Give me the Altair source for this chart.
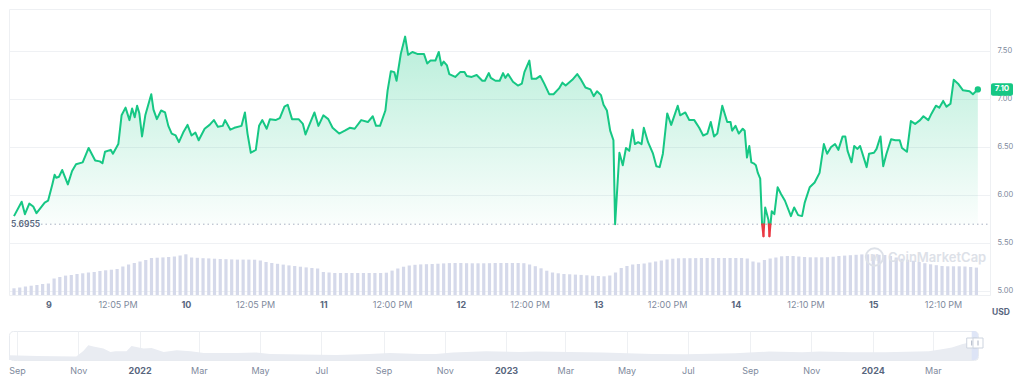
import altair as alt
import numpy as np
import pandas as pd
from datetime import datetime, timezone

# ---------------- data ----------------
# price: hours since 2024-04-09 00:00 UTC, price in USD
price_hours = [
    -6.00, -4.66, -4.09, -3.33, -2.64, -2.07, -0.64, -0.05, 0.69, 1.09, 1.38, 1.85, 2.42, 3.40, 4.14,
    4.83, 5.99, 7.03, 8.17, 8.98, 9.44, 9.89, 10.88, 11.27, 12.21, 12.78, 13.47, 14.16, 14.62, 15.07,
    15.49, 15.88, 16.35, 16.92, 17.96, 18.35, 18.94, 19.68, 20.37, 20.94, 21.53, 22.22, 22.79, 23.53,
    24.29, 24.98, 25.67, 26.24, 27.28, 28.14, 28.89, 29.58, 30.44, 30.85, 31.77, 32.46, 33.72, 34.31,
    34.76, 35.34, 36.21, 36.78, 37.35, 38.11, 38.68, 39.66, 40.40, 41.21, 41.78, 42.53, 43.68, 44.43,
    44.89, 45.41, 46.45, 47.14, 48.00, 48.86, 49.61, 50.76, 51.75, 52.61, 53.47, 54.61, 55.77, 56.63,
    57.20, 57.89, 58.83, 59.22, 59.79, 60.38, 60.78, 61.52, 62.28, 62.80, 63.54, 64.40, 65.56, 66.13,
    66.70, 67.56, 68.15, 68.60, 69.01, 69.58, 69.98, 71.02, 71.88, 72.64, 73.03, 73.90, 74.76, 75.75,
    76.20, 76.89, 77.23, 78.04, 78.78, 79.37, 79.77, 80.24, 81.10, 81.96, 82.65, 83.10, 83.96, 84.38,
    85.12, 85.87, 86.56, 87.42, 88.18, 89.14, 89.73, 90.30, 91.46, 92.32, 92.89, 93.75, 94.62, 95.19,
    95.77, 96.47, 96.91, 97.50, 98.07, 98.64, 98.93, 99.68, 100.27, 100.83, 101.40, 101.99, 102.39,
    102.96, 103.55, 103.94, 104.68, 105.55, 106.13, 106.70, 107.27, 108.03, 108.72, 109.29, 109.86,
    110.28, 111.19, 111.88, 112.75, 113.61, 114.30, 115.04, 115.63, 116.20, 116.77, 117.64, 118.50,
    119.08, 119.36, 119.95, 120.52, 121.21, 121.55, 121.95, 122.36, 122.71, 123.11, 123.50, 123.85,
    124.26, 124.59, 124.83, 124.95, 125.13, 125.70, 125.75, 125.87, 126.06, 126.27, 126.73, 127.30,
    127.89, 128.58, 129.62, 130.19, 130.88, 131.57, 132.03, 132.90, 133.76, 134.62, 135.37, 135.94,
    136.63, 137.32, 137.90, 138.65, 139.11, 139.51, 140.20, 140.67, 141.24, 141.70, 142.84, 143.26,
    144.12, 144.57, 145.26, 145.73, 146.30, 147.11, 147.85, 148.61, 149.01, 149.87, 150.56, 151.30,
    152.17, 152.75, 153.61, 154.18, 154.93, 155.52, 156.20, 156.78, 157.47, 158.04, 158.80, 159.66,
    160.80, 161.39, 162.25,
]
price_values = [
    5.78, 5.93, 5.80, 5.91, 5.88, 5.81, 5.92, 5.94, 6.11, 6.21, 6.18, 6.19, 6.26, 6.11, 6.25,
    6.32, 6.34, 6.49, 6.36, 6.35, 6.33, 6.45, 6.47, 6.43, 6.53, 6.83, 6.91, 6.78, 6.90, 6.81,
    6.93, 6.85, 6.61, 6.83, 7.05, 6.89, 6.79, 6.88, 6.86, 6.72, 6.64, 6.62, 6.55, 6.65,
    6.73, 6.62, 6.65, 6.57, 6.69, 6.73, 6.78, 6.71, 6.72, 6.78, 6.68, 6.70, 6.72, 6.86,
    6.64, 6.44, 6.47, 6.72, 6.78, 6.69, 6.79, 6.78, 6.80, 6.92, 6.94, 6.79, 6.79, 6.74,
    6.63, 6.71, 6.86, 6.72, 6.83, 6.79, 6.70, 6.64, 6.67, 6.70, 6.69, 6.78, 6.76, 6.82,
    6.72, 6.72, 6.88, 7.09, 7.29, 7.28, 7.19, 7.47, 7.65, 7.46, 7.49, 7.47, 7.47, 7.37,
    7.40, 7.40, 7.49, 7.35, 7.39, 7.35, 7.26, 7.23, 7.28, 7.28, 7.24, 7.23, 7.25, 7.19,
    7.19, 7.27, 7.22, 7.19, 7.19, 7.27, 7.22, 7.26, 7.18, 7.14, 7.16, 7.28, 7.40, 7.21,
    7.21, 7.24, 7.16, 7.05, 7.05, 7.11, 7.17, 7.14, 7.20, 7.26, 7.21, 7.12, 7.10, 7.03,
    7.08, 7.04, 6.94, 6.88, 6.67, 6.57, 5.69, 6.44, 6.31, 6.49, 6.46, 6.68, 6.53,
    6.55, 6.53, 6.70, 6.55, 6.43, 6.30, 6.29, 6.43, 6.85, 6.73, 6.83, 6.93,
    6.83, 6.86, 6.78, 6.78, 6.70, 6.62, 6.64, 6.76, 6.61, 6.64, 6.93, 6.76,
    6.76, 6.67, 6.72, 6.64, 6.69, 6.67, 6.39, 6.51, 6.34, 6.33, 6.31, 6.23,
    6.17, 5.6955, 5.57, 5.6955, 5.87, 5.74, 5.6955, 5.57, 5.6955, 5.83, 5.80, 6.08,
    6.01, 5.94, 5.78, 5.87, 5.79, 5.78, 5.92, 6.08, 6.13, 6.23, 6.53, 6.43,
    6.50, 6.53, 6.47, 6.61, 6.61, 6.46, 6.34, 6.51, 6.48, 6.51, 6.29, 6.43,
    6.44, 6.48, 6.61, 6.30, 6.43, 6.58, 6.57, 6.57, 6.49, 6.45, 6.77, 6.74,
    6.78, 6.82, 6.78, 6.85, 6.93, 6.91, 6.98, 6.92, 6.95, 7.20, 7.16, 7.09,
    7.08, 7.05, 7.10,
]
BASELINE = 5.6955

# 24h volume, one value per hour starting 2024-04-08 18:00 UTC (millions USD)
volume_hourly = [
    6.7, 7.5, 8.5, 9.3, 10, 11, 11.5, 16.5, 18, 19.4,
    20, 21, 21.7, 22.5, 23, 24, 24.7, 25.3, 26, 28.5,
    30.5, 32, 33.5, 35, 37, 37.3, 37.6, 38, 38.5, 39.5,
    40.7, 37.5, 37.2, 36.8, 36.6, 36.3, 36, 35.8, 35.6, 35.4,
    35.4, 35.4, 35.3, 34.5, 33, 32, 31.2, 30.4, 29.6, 29,
    28.3, 27.6, 27, 26.5, 23, 22.5, 22, 22, 22, 22,
    22, 22, 22, 22, 22, 22.3, 24.4, 26.5, 28.3, 29.5,
    30.2, 30.6, 30.8, 31, 31.3, 31.6, 31.9, 32, 32, 31.8,
    31.7, 31.7, 31.7, 31.8, 32, 32, 32, 32, 32, 31.8,
    30.5, 28.8, 26.7, 24.3, 22.5, 21.7, 21, 20.7, 20.4, 20.1,
    19.7, 19.3, 19, 18.7, 19.5, 22.5, 27, 29, 30.5, 31,
    31.5, 32.5, 33.5, 34.5, 35.5, 36.3, 36.7, 36.8, 36.8, 36.9,
    37, 37, 37, 37, 37, 37, 37, 37, 36.5, 33.5,
    32.5, 35, 36.5, 37.5, 38.7, 39, 39, 38.5, 38, 37.7,
    37.7, 37.7, 37.8, 38.3, 39, 39.4, 39.8, 40.2, 40.6, 40.7,
    40.5, 40.2, 40, 39, 37.5, 36.3, 35.3, 34.3, 33, 31.8,
    30.7, 29.8, 29, 28.7, 28.7, 28.7, 28.5, 28, 27.4,
]

# x-axis tick times of the main chart (UTC)
x_ticks = [
    "2024-04-09T00:00", "2024-04-09T12:05", "2024-04-10T00:00", "2024-04-10T12:05",
    "2024-04-11T00:00", "2024-04-11T12:00", "2024-04-12T00:00", "2024-04-12T12:00",
    "2024-04-13T00:00", "2024-04-13T12:00", "2024-04-14T00:00", "2024-04-14T12:10",
    "2024-04-15T00:00", "2024-04-15T12:10",
]
y_ticks = [5.00, 5.50, 6.00, 6.50, 7.00, 7.50]
main_start = "2024-04-08T18:00"
main_end = "2024-04-15T19:30"

# navigator (long history)
nav_dates = [
    "2021-08-24", "2021-09-21", "2021-10-30", "2021-11-06", "2021-11-11", "2021-11-16", "2021-11-26",
    "2021-12-03", "2021-12-08", "2021-12-19", "2021-12-24", "2022-01-05", "2022-01-13", "2022-01-25",
    "2022-02-07", "2022-02-21", "2022-03-06", "2022-04-08", "2022-04-27", "2022-05-11", "2022-06-13",
    "2022-07-16", "2022-08-18", "2022-09-07", "2022-10-07", "2022-10-23", "2022-11-09", "2022-12-12",
    "2023-01-15", "2023-01-31", "2023-04-07", "2023-05-27", "2023-06-29", "2023-08-17", "2023-09-20",
    "2023-10-23", "2023-11-09", "2023-12-12", "2024-01-13", "2024-02-26", "2024-03-10", "2024-03-20",
    "2024-03-30", "2024-04-06", "2024-04-15",
]
nav_level = [
    4.7, 4.0, 3.4, 9.0, 14.7, 13.4, 11.4, 8.0, 8.7, 8.7, 14.0, 11.4, 12.0, 8.0, 9.7, 8.7, 7.0, 7.0,
    7.4, 6.0, 5.4, 5.0, 6.0, 7.0, 6.0, 6.0, 7.4, 8.7, 8.0, 8.4, 7.4, 6.0, 5.7, 6.7, 8.4, 7.7, 8.4,
    7.7, 7.7, 8.7, 10.7, 12.4, 15.7, 17.4, 18.0,
]
nav_ticks = [
    "2021-09-01", "2021-11-01", "2022-01-01", "2022-03-01", "2022-05-01", "2022-07-01",
    "2022-09-01", "2022-11-01", "2023-01-01", "2023-03-01", "2023-05-01", "2023-07-01",
    "2023-09-01", "2023-11-01", "2024-01-01", "2024-03-01",
]
nav_start = "2021-08-24"
nav_end = "2024-04-15"

# ---------------- helpers ----------------
def ms(s):
    return int(datetime.fromisoformat(s).replace(tzinfo=timezone.utc).timestamp() * 1000)

BASE_MS = ms("2024-04-09T00:00")
GREEN = "#16c784"
RED = "#ea3943"
DARK = "#58667e"
GREY = "#808a9d"

price = pd.DataFrame({"h": price_hours, "v": price_values})
price["t"] = BASE_MS + (price["h"] * 3600000).round().astype("int64")
price["v_up"] = np.maximum(price["v"], BASELINE)
price["v_dn"] = np.minimum(price["v"], BASELINE)

seg = price.copy()
seg["t2"] = seg["t"].shift(-1)
seg["v2"] = seg["v"].shift(-1)
seg = seg.dropna()
seg = seg[(seg["v"] + seg["v2"]) / 2 < BASELINE]

last = price.iloc[[-1]]
last_price = float(price["v"].iloc[-1])

vol = pd.DataFrame({"vol": volume_hourly})
vol["t"] = ms(main_start) + np.arange(len(vol)) * 3600000

one = pd.DataFrame({"a": [0]})

x_scale = alt.Scale(type="utc", domain=[ms(main_start), ms(main_end)])
is_day = "utchours(datum.value) == 0 && utcminutes(datum.value) == 0"
x_axis = alt.Axis(
    values=[ms(s) for s in x_ticks],
    labelExpr="utchours(datum.value) == 0 && utcminutes(datum.value) == 0 ? utcFormat(datum.value, '%-d') : utcFormat(datum.value, '%-I:%M %p')",
    labelFontWeight={"condition": {"test": is_day, "value": "bold"}, "value": "normal"},
    labelColor={"condition": {"test": is_day, "value": DARK}, "value": GREY},
    grid=False, domain=False, ticks=False, labelPadding=5, labelFontSize=9,
    labelOverlap=False, labelFlush=False, labelBound=False,
)
X = alt.X("t:T", scale=x_scale, axis=x_axis, title=None)

y_scale = alt.Scale(domain=[4.958, 7.9375], nice=False, zero=False)
y_axis = alt.Axis(
    orient="right", values=y_ticks, format=".2f", grid=True, gridColor="#eff1f4",
    domain=False, ticks=False, labelPadding=7, labelFontSize=7.5, labelColor=GREY,
)

green_grad = alt.Gradient(
    gradient="linear",
    stops=[alt.GradientStop(color="rgba(22,199,132,0.30)", offset=0),
           alt.GradientStop(color="rgba(22,199,132,0.02)", offset=1)],
    x1=0, x2=0, y1=0, y2=1,
)

# ---------------- main chart ----------------
volume_layer = alt.Chart(vol).mark_bar(size=3.2, color="#d5d9ea", clip=True).encode(
    x=X,
    y=alt.Y("vol:Q", scale=alt.Scale(domain=[0, 286]), axis=None, title=None),
)

area_up = alt.Chart(price).mark_area(color=green_grad, interpolate="linear").encode(
    x=X,
    y=alt.Y("v_up:Q", scale=y_scale, axis=y_axis, title=None),
    y2=alt.datum(BASELINE),
)
area_dn = alt.Chart(price).mark_area(color="rgba(234,57,67,0.12)").encode(
    x=X, y=alt.Y("v_dn:Q", title=None), y2=alt.datum(BASELINE),
)
base_rule = alt.Chart(one).mark_rule(strokeDash=[1.5, 3], color="#a9b2c3", strokeWidth=1).encode(
    x=alt.value(32), x2=alt.value(981), y=alt.datum(BASELINE),
)
base_label = alt.Chart(one).mark_text(
    align="left", baseline="middle", fontSize=8.5, fontWeight=600, color=DARK
).encode(x=alt.value(2), y=alt.datum(BASELINE), text=alt.value(f"{BASELINE}"))

line_up = alt.Chart(price).mark_line(color=GREEN, strokeWidth=2, strokeJoin="round").encode(
    x=X, y=alt.Y("v_up:Q", title=None),
)
line_dn = alt.Chart(seg).mark_rule(color=RED, strokeWidth=2, strokeCap="round").encode(
    x=X, x2="t2", y=alt.Y("v:Q", title=None), y2="v2",
)
end_dot = alt.Chart(last).mark_circle(color=GREEN, size=40, opacity=1).encode(
    x=X, y=alt.Y("v:Q", title=None),
)
tag_box = alt.Chart(one).mark_rect(color=GREEN, cornerRadius=2).encode(
    x=alt.value(982), x2=alt.value(1004),
    y=alt.datum(last_price + 0.065), y2=alt.datum(last_price - 0.065),
)
tag_text = alt.Chart(one).mark_text(
    color="white", fontWeight="bold", fontSize=8, align="center", baseline="middle"
).encode(x=alt.value(993), y=alt.datum(last_price), text=alt.value(f"{last_price:.2f}"))

wm_circle = alt.Chart(one).mark_point(
    shape="circle", size=300, filled=False, stroke="#dde1e8", strokeWidth=2, opacity=1
).encode(x=alt.value(865.5), y=alt.value(248))
wm_m = alt.Chart(one).mark_text(fontSize=9, fontWeight="bold", color="#dde1e8").encode(
    x=alt.value(865.5), y=alt.value(248.5), text=alt.value("M"))
wm_text = alt.Chart(one).mark_text(
    align="left", baseline="middle", fontSize=13, fontWeight=600, color="#dde1e8"
).encode(x=alt.value(879), y=alt.value(248.5), text=alt.value("CoinMarketCap"))
usd = alt.Chart(one).mark_text(
    align="center", baseline="middle", fontSize=8.5, fontWeight="bold", color=DARK
).encode(x=alt.value(992), y=alt.value(303), text=alt.value("USD"))

price_group = alt.layer(
    area_up, area_dn, base_rule, base_label, line_up, line_dn, end_dot,
    tag_box, tag_text, wm_circle, wm_m, wm_text, usd,
)

main = alt.layer(volume_layer, price_group).resolve_scale(y="independent").properties(
    width=981, height=286, view=alt.ViewBackground(stroke="#eef0f3"),
)

# ---------------- navigator ----------------
nav = pd.DataFrame({"date": nav_dates, "level": nav_level})
nav_x_scale = alt.Scale(type="utc", domain=[ms(nav_start), ms(nav_end)])
is_year = "utcmonth(datum.value) == 0"
nav_axis = alt.Axis(
    values=[ms(s) for s in nav_ticks],
    labelExpr="utcmonth(datum.value) == 0 ? utcFormat(datum.value, '%Y') : utcFormat(datum.value, '%b')",
    labelFontWeight={"condition": {"test": is_year, "value": "bold"}, "value": "normal"},
    labelColor={"condition": {"test": is_year, "value": DARK}, "value": GREY},
    grid=True, gridColor="#eef0f3", domain=False, ticks=False, labelPadding=6,
    labelFontSize=9, labelOverlap=False, labelFlush=False, labelBound=False,
)
NX = alt.X("date:T", scale=nav_x_scale, axis=nav_axis, title=None)
nav_area = alt.Chart(nav).mark_area(color="#e9ecf2").encode(
    x=NX,
    y=alt.Y("level:Q", scale=alt.Scale(domain=[0, 29]), axis=None, title=None),
)
sel = pd.DataFrame({"date": [ms(main_start)], "e": [ms(main_end)]})
nav_sel = alt.Chart(sel).mark_rect(color="#dbe3f6", opacity=0.9, clip=True).encode(
    x=NX, x2="e", y=alt.value(0), y2=alt.value(29),
)
handles_df = pd.DataFrame({"date": [ms(main_start), ms(nav_end)]})
nav_handles = alt.Chart(handles_df).mark_point(
    shape="square", size=100, filled=True, fill="white", stroke="#cdd4df", strokeWidth=1, opacity=1
).encode(x=NX, y=alt.value(12))
nav_grips = alt.Chart(handles_df).mark_rule(color="#aab3c3", strokeWidth=1).encode(
    x=NX, y=alt.value(9.5), y2=alt.value(14.5),
)
navigator = alt.layer(nav_area, nav_sel, nav_handles, nav_grips).properties(
    width=969, height=29, view=alt.ViewBackground(stroke="#e8ebf0", cornerRadius=4),
)

chart = alt.vconcat(main, navigator, spacing=13).properties(
    padding={"left": 0, "top": 0, "right": 0, "bottom": 0},
    autosize=alt.AutoSizeParams(type="pad"),
).configure(font="Inter").configure_view(stroke=None)

chart.save("out.html", embed_options={"renderer": "svg", "actions": False})
